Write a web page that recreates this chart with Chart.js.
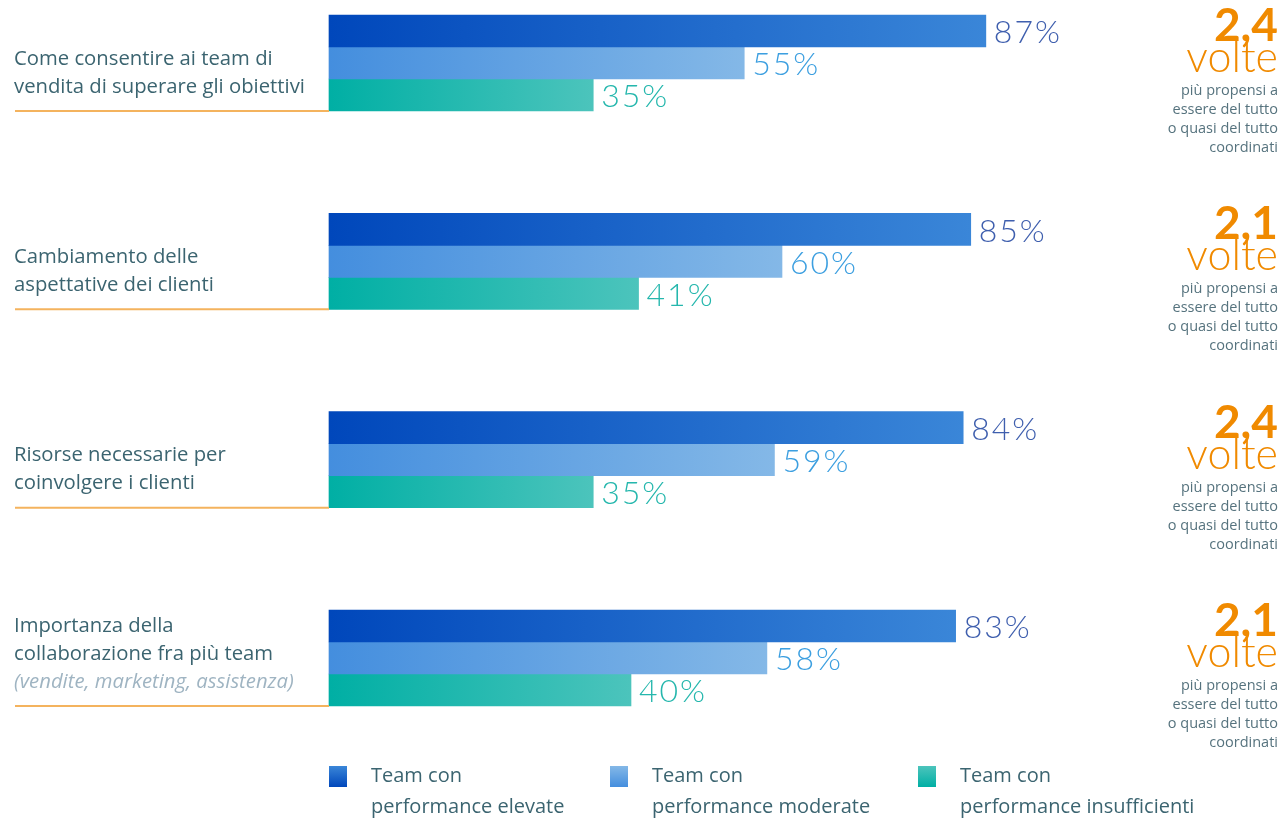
<!DOCTYPE html>
<html lang="it">
<head>
<meta charset="utf-8">
<title>Team con performance elevate, moderate e insufficienti</title>
<script src="https://cdn.jsdelivr.net/npm/chart.js@4/dist/chart.umd.min.js"></script>
<style>
  html, body { margin: 0; padding: 0; background: #ffffff; }
  #wrap { position: relative; width: 1281px; height: 819px; }
</style>
</head>
<body>
<div id="wrap"><canvas id="teamChart" width="1281" height="819"></canvas></div>
<script>
// categories (each one split in lines) and an optional note under it
const categories = [
  ['Come consentire ai team di', 'vendita di superare gli obiettivi'],
  ['Cambiamento delle', 'aspettative dei clienti'],
  ['Risorse necessarie per', 'coinvolgere i clienti'],
  ['Importanza della', 'collaborazione fra più team']
];
const categoryNotes = ['', '', '', '(vendite, marketing, assistenza)'];

// percentages per series
const elevate = [87, 85, 84, 83];
const moderate = [55, 60, 59, 58];
const insufficient = [35, 41, 35, 40];

// side callouts
const multipliers = ['2,4', '2,1', '2,4', '2,1'];
const multiplierUnit = 'volte';
const multiplierText = ['più propensi a', 'essere del tutto', 'o quasi del tutto', 'coordinati'];

const seriesNames = [
  ['Team con', 'performance elevate'],
  ['Team con', 'performance moderate'],
  ['Team con', 'performance insufficienti']
];

const BAR_COLORS = [
  { from: '#0047bb', to: '#3a86d8', text: '#3f5fae' },
  { from: '#448ede', to: '#84b8e7', text: '#3c9fe0' },
  { from: '#00afa4', to: '#4cc4bc', text: '#25b7ad' }
];
const LABEL_COLOR = '#3b6470';
const NOTE_COLOR = '#9fb4c2';
const ORANGE = '#f08a00';
const RULE_COLOR = '#f4b35e';

function barGradient(idx) {
  return function (ctx) {
    const chart = ctx.chart;
    const c = BAR_COLORS[idx];
    if (!chart.chartArea || ctx.raw == null) return c.from;
    const x = chart.scales.x;
    const x0 = x.getPixelForValue(0);
    const x1 = x.getPixelForValue(ctx.raw);
    const g = chart.ctx.createLinearGradient(x0, 0, x1, 0);
    g.addColorStop(0, c.from);
    g.addColorStop(1, c.to);
    return g;
  };
}

// labels at the end of every bar
const valueLabels = {
  id: 'valueLabels',
  afterDatasetsDraw(chart) {
    const ctx = chart.ctx;
    ctx.save();
    ctx.font = '300 32px Lato, "Open Sans", sans-serif';
    ctx.letterSpacing = '2px';
    ctx.textAlign = 'left';
    ctx.textBaseline = 'middle';
    chart.data.datasets.forEach((ds, di) => {
      const meta = chart.getDatasetMeta(di);
      ctx.fillStyle = BAR_COLORS[di].text;
      meta.data.forEach((bar, i) => {
        ctx.fillText(ds.data[i] + '%', bar.x + 8, bar.y + 2);
      });
    });
    ctx.restore();
  }
};

// category text on the left, orange rule, callouts on the right
const sideText = {
  id: 'sideText',
  afterDraw(chart) {
    const ctx = chart.ctx;
    const y = chart.scales.y;
    const left = chart.chartArea.left;
    ctx.save();
    categories.forEach((lines, i) => {
      const yc = y.getPixelForValue(i);
      const all = lines.slice();
      if (categoryNotes[i]) all.push(categoryNotes[i]);
      ctx.textAlign = 'left';
      ctx.textBaseline = 'middle';
      all.forEach((line, k) => {
        const ly = yc + 24 - (all.length - 1 - k) * 28;
        const isNote = k >= lines.length;
        ctx.font = (isNote ? 'italic ' : '') + '20.3px "Open Sans", sans-serif';
        ctx.fillStyle = isNote ? NOTE_COLOR : LABEL_COLOR;
        ctx.fillText(line, 14, ly);
      });
      // rule under the category
      ctx.strokeStyle = RULE_COLOR;
      ctx.lineWidth = 2;
      ctx.beginPath();
      ctx.moveTo(15, yc + 48);
      ctx.lineTo(left, yc + 48);
      ctx.stroke();

      // callout
      const rx = 1278;
      ctx.textAlign = 'right';
      ctx.textBaseline = 'alphabetic';
      ctx.fillStyle = ORANGE;
      ctx.font = 'bold 46px Lato, "Open Sans", sans-serif';
      ctx.fillText(multipliers[i], rx, yc - 22);
      ctx.font = '300 43px Lato, "Open Sans", sans-serif';
      ctx.fillText(multiplierUnit, rx, yc + 9);
      ctx.fillStyle = '#56737e';
      ctx.font = '14.5px "Open Sans", sans-serif';
      ctx.textBaseline = 'middle';
      multiplierText.forEach((t, k) => {
        ctx.fillText(t, rx, yc + 28 + k * 19);
      });
    });
    ctx.restore();
  }
};

// legend with gradient swatches and two-line names
const bottomLegend = {
  id: 'bottomLegend',
  afterDraw(chart) {
    const ctx = chart.ctx;
    const xs = [329, 610, 918];
    ctx.save();
    seriesNames.forEach((name, i) => {
      const c = BAR_COLORS[i];
      const g = ctx.createLinearGradient(0, 766, 0, 787);
      g.addColorStop(0, c.to);
      g.addColorStop(1, c.from);
      ctx.fillStyle = g;
      ctx.fillRect(xs[i], 766, 18, 21);
      ctx.fillStyle = LABEL_COLOR;
      ctx.font = '20px "Open Sans", sans-serif';
      ctx.textAlign = 'left';
      ctx.textBaseline = 'middle';
      name.forEach((line, k) => {
        ctx.fillText(line, xs[i] + 42, 776 + k * 31);
      });
    });
    ctx.restore();
  }
};

new Chart(document.getElementById('teamChart').getContext('2d'), {
  type: 'bar',
  data: {
    labels: categories.map(l => l.join(' ')),
    datasets: [
      { label: seriesNames[0].join(' '), data: elevate, backgroundColor: barGradient(0) },
      { label: seriesNames[1].join(' '), data: moderate, backgroundColor: barGradient(1) },
      { label: seriesNames[2].join(' '), data: insufficient, backgroundColor: barGradient(2) }
    ]
  },
  options: {
    indexAxis: 'y',
    responsive: false,
    animation: false,
    events: [],
    datasets: {
      bar: { barThickness: 32, borderWidth: 0, clip: false }
    },
    layout: { padding: { left: 329, right: 197, top: 63, bottom: 161 } },
    scales: {
      x: { type: 'linear', min: 0, max: 100, display: false },
      y: { type: 'category', offset: false, display: false }
    },
    plugins: {
      legend: { display: false },
      tooltip: { enabled: false }
    }
  },
  plugins: [valueLabels, sideText, bottomLegend]
});
</script>
</body>
</html>
